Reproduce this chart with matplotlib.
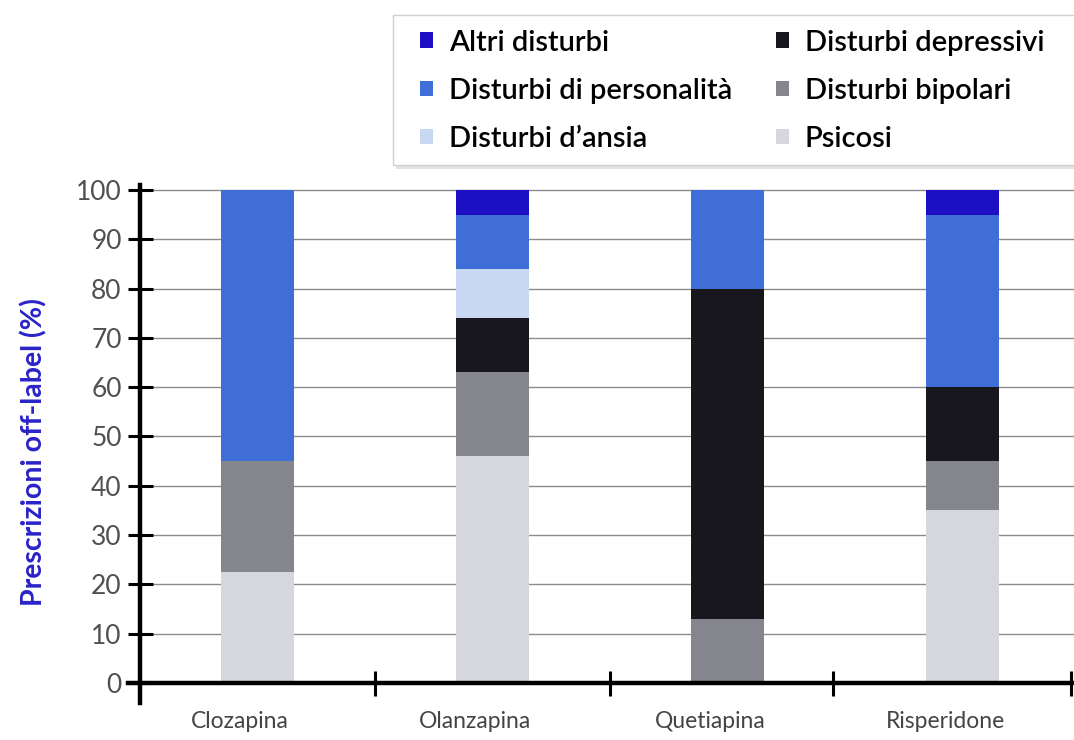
import numpy as np
import matplotlib.pyplot as plt
import matplotlib.transforms as mtransforms
from matplotlib.patches import Rectangle
from matplotlib.ticker import FixedLocator

# Off-label prescriptions by antipsychotic, share of each diagnosis (%)
farmaci = ['Clozapina', 'Olanzapina', 'Quetiapina', 'Risperidone']
psicosi = [22.5, 46, 0, 35]
bipolari = [22.5, 17, 13, 10]
depressivi = [0, 11, 67, 15]
ansia = [0, 10, 0, 0]
personalita = [55, 11, 20, 35]
altri = [0, 5, 0, 5]

serie = [
    ('Psicosi', psicosi, '#d6d6de'),
    ('Disturbi bipolari', bipolari, '#85858d'),
    ('Disturbi depressivi', depressivi, '#17171d'),
    ("Disturbi d\u2019ansia", ansia, '#c8d7f2'),
    ('Disturbi di personalità', personalita, '#3f6fd6'),
    ('Altri disturbi', altri, '#1c0fc4'),
]

plt.rcParams['font.family'] = ['Lato', 'DejaVu Sans']

fig = plt.figure(figsize=(10.74, 7.4), dpi=100)
ax = fig.add_axes([0.1192, 0.0504, 0.8864, 0.6996])

x = np.arange(len(farmaci))
base = np.zeros(len(farmaci))
handles = {}
for nome, valori, colore in serie:
    b = ax.bar(x, valori, width=0.31, bottom=base, color=colore,
               label=nome, zorder=3)
    handles[nome] = b
    base += np.array(valori)

ax.set_xlim(-0.55, 3.5)
ax.set_ylim(-4, 101)

# horizontal grid
for v in range(10, 101, 10):
    ax.axhline(v, xmin=0.05 / 4.05, color='#8c8c8c', lw=1.0, zorder=1)

for s in ['top', 'right']:
    ax.spines[s].set_visible(False)
ax.spines['left'].set_position(('data', -0.5))
ax.spines['bottom'].set_position(('data', 0))
ax.spines['left'].set_linewidth(3.2)
ax.spines['bottom'].set_linewidth(3.2)
ax.spines['left'].set_zorder(4)
ax.spines['bottom'].set_zorder(4)

ax.set_yticks(range(0, 101, 10))
ax.tick_params(axis='y', direction='inout', length=18, width=2.2,
               labelsize=19, labelcolor='#505050', pad=4)

ax.set_xticks(x)
ax.set_xticklabels(farmaci)
ax.xaxis.set_minor_locator(FixedLocator([0.5, 1.5, 2.45, 3.46]))
ax.tick_params(axis='x', which='major', length=0, labelsize=16.5,
               labelcolor='#444444', pad=20)
ax.tick_params(axis='x', which='minor', direction='inout', length=18,
               width=2.2)
# category names sit a little left of the bars
shift = mtransforms.ScaledTranslation(-0.17, 0, fig.dpi_scale_trans)
for lab in ax.get_xticklabels():
    lab.set_transform(lab.get_transform() + shift)

ax.set_ylabel('Prescrizioni off-label (%)', color='#2a23c8',
              fontsize=20.5, fontweight='bold')
ax.yaxis.set_label_coords(-0.085, 0.484)

# legend box with a soft shadow, running off the right edge
fig.patches.append(Rectangle((396 / 1074, (740 - 169) / 740), 0.7, 150 / 740,
                             transform=fig.transFigure, facecolor='#e2e2e2',
                             edgecolor='none', zorder=0))
fig.patches.append(Rectangle((393 / 1074, (740 - 165) / 740), 0.7, 150 / 740,
                             transform=fig.transFigure, facecolor='white',
                             edgecolor='#d0d0d0', lw=1.0, zorder=1))

ordine = ['Altri disturbi', 'Disturbi di personalità', "Disturbi d\u2019ansia",
          'Disturbi depressivi', 'Disturbi bipolari', 'Psicosi']
leg = fig.legend([handles[n] for n in ordine], ordine, ncol=2,
                 loc='upper left', bbox_to_anchor=(405 / 1074, 1 - 15 / 740),
                 frameon=False, prop={'size': 21, 'weight': 'semibold'},
                 handlelength=0.45, handleheight=0.45,
                 handletextpad=0.55, labelspacing=0.76, columnspacing=1.5,
                 borderpad=0.5, borderaxespad=0)

plt.savefig('out.png', dpi=100)
